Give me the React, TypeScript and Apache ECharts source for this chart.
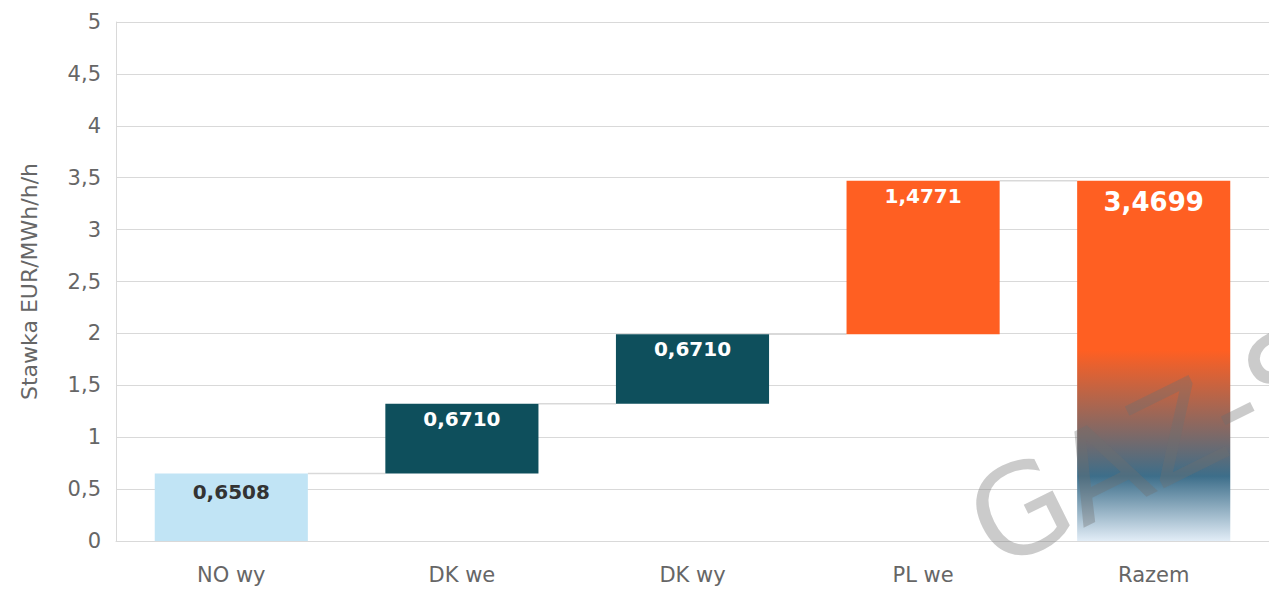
import React, { useEffect, useRef } from "react";
import * as echarts from "echarts";

const categories = ["NO wy", "DK we", "DK wy", "PL we", "Razem"];
const values = [0.6508, 0.671, 0.671, 1.4771, 3.4699];
const bases = [0, 0.6508, 1.3218, 1.9928, 0];
const valueLabels = ["0,6508", "0,6710", "0,6710", "1,4771", "3,4699"];
const connectorLevels = [0.6508, 1.3218, 1.9928, 3.4699];
const yTicks = { min: 0, max: 5, interval: 0.5 };

const FONT = "'DejaVu Sans', sans-serif";

export default function App() {
  const ref = useRef<HTMLDivElement>(null);
  useEffect(() => {
    if (!ref.current) return;
    const chart = echarts.init(ref.current, undefined, { renderer: "svg" });
    const colors = [
      "#C1E4F5",
      "#0E4F5C",
      "#0E4F5C",
      "#FF5F22",
      new echarts.graphic.LinearGradient(0, 0, 0, 1, [
        { offset: 0, color: "#FF5F22" },
        { offset: 0.47, color: "#FF5F22" },
        { offset: 0.82, color: "#3D6E8A" },
        { offset: 1, color: "#E2EDF7" },
      ]),
    ];
    const labelStyles = [
      { color: "#333333", fontSize: 20, distance: 9 },
      { color: "#ffffff", fontSize: 20, distance: 5 },
      { color: "#ffffff", fontSize: 20, distance: 5 },
      { color: "#ffffff", fontSize: 20, distance: 5 },
      { color: "#ffffff", fontSize: 26, distance: 8 },
    ];
    const BAR_FRAC = 0.664;
    chart.setOption({
      animation: false,
      grid: { left: 116, right: 0, top: 22, bottom: 48, containLabel: false },
      xAxis: {
        type: "category",
        data: categories,
        axisLine: { show: true, lineStyle: { color: "#d9d9d9", width: 1 } },
        axisTick: { show: false },
        axisLabel: { color: "#666666", fontSize: 21, fontFamily: FONT, margin: 23 },
      },
      yAxis: {
        type: "value",
        min: yTicks.min,
        max: yTicks.max,
        interval: yTicks.interval,
        name: "Stawka EUR/MWh/h/h",
        nameLocation: "middle",
        nameGap: 76,
        nameTextStyle: { color: "#666666", fontSize: 22, fontFamily: FONT },
        axisLine: { show: true, lineStyle: { color: "#d9d9d9", width: 1 } },
        axisTick: { show: false },
        axisLabel: {
          color: "#666666",
          fontSize: 21,
          fontFamily: FONT,
          margin: 15,
          formatter: (v: number) => String(v).replace(".", ","),
        },
        splitLine: { lineStyle: { color: "#d9d9d9", width: 1 } },
      },
      series: [
        {
          type: "bar",
          stack: "w",
          data: bases,
          barWidth: "66.4%",
          itemStyle: { color: "transparent" },
          silent: true,
        },
        {
          type: "bar",
          stack: "w",
          barWidth: "66.4%",
          data: values.map((v, i) => ({
            value: v,
            itemStyle: { color: colors[i] },
            label: {
              show: true,
              position: "insideTop",
              formatter: valueLabels[i],
              fontFamily: FONT,
              fontWeight: "bold",
              ...labelStyles[i],
            },
          })),
        },
        {
          type: "custom",
          silent: true,
          z: 1,
          data: connectorLevels.map((y, i) => [i, y]),
          renderItem: (params: any, api: any) => {
            const i = api.value(0);
            const y = api.value(1);
            const p1 = api.coord([i, y]);
            const p2 = api.coord([i + 1, y]);
            const bw = api.size([1, 0])[0] * BAR_FRAC;
            return {
              type: "line",
              shape: { x1: p1[0] + bw / 2, y1: p1[1], x2: p2[0] - bw / 2, y2: p2[1] },
              style: { stroke: "#d9d9d9", lineWidth: 1.5 },
            };
          },
        },
      ],
      graphic: [
        {
          type: "text",
          x: 1005,
          y: 588,
          rotation: 0.46,
          z: 100,
          style: {
            text: "GAZ-S",
            fontSize: 124,
            fontFamily: FONT,
            fontWeight: "normal",
            fill: "rgba(110,110,110,0.36)",
            textVerticalAlign: "bottom",
          },
        },
      ],
    });
    return () => chart.dispose();
  }, []);
  return (
    <div
      ref={ref}
      style={{ position: "fixed", left: 0, top: 0, width: 1269, height: 589, background: "#fff" }}
    />
  );
}
